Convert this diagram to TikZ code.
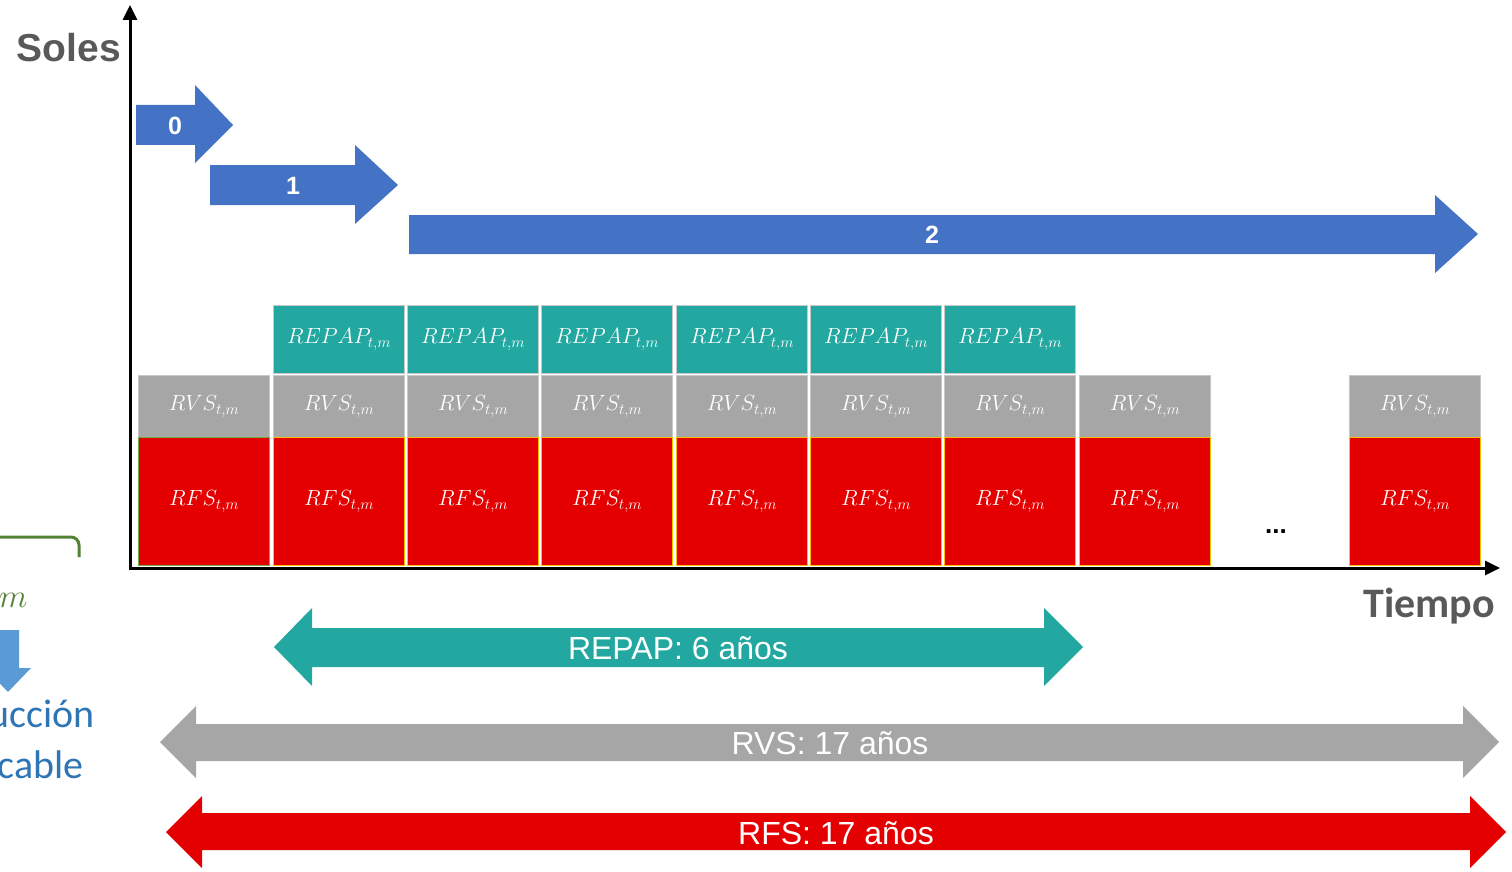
\RequirePackage{fix-cm}
\documentclass[tikz,border=0pt]{standalone}
\usepackage{amsmath}
\usepackage{fontspec}
\setmainfont{Liberation Sans}
\newfontfamily\calibri{Carlito}
\usepackage{tikz}
\usetikzlibrary{arrows.meta}

\definecolor{soleblue}{HTML}{4472C4}
\definecolor{repapteal}{HTML}{22A8A0}
\definecolor{rvsgray}{HTML}{A6A6A6}
\definecolor{rfsred}{HTML}{E40000}
\definecolor{boxline}{HTML}{C8C8C8}
\definecolor{edgegold}{HTML}{FFC000}
\definecolor{edgegreen}{HTML}{70AD47}
\definecolor{axisgray}{HTML}{595959}
\definecolor{markgreen}{HTML}{548235}
\definecolor{downblue}{HTML}{5B9BD5}
\definecolor{textblue}{HTML}{2E75B6}

\begin{document}
\begin{tikzpicture}[x=1pt,y=-1pt,
    box/.style={draw=boxline, line width=1.2pt, minimum width=131pt, anchor=north west, inner sep=0pt, text=white, font=\fontsize{22}{26}\selectfont},
    rfsbox/.style={box, fill=rfsred, minimum height=128pt},
    rvsbox/.style={box, fill=rvsgray, minimum height=62pt},
    repapbox/.style={box, fill=repapteal, minimum height=68pt},
    blocklabel/.style={text=white, font=\bfseries\fontsize{25}{28}\selectfont},
    spanlabel/.style={text=white, font=\fontsize{32}{35}\selectfont},
    axislabel/.style={text=axisgray, font=\bfseries\fontsize{39}{42}\selectfont}]
        \useasboundingbox (0,0) rectangle (1512,872);
        \clip (0,0) rectangle (1512,872);
        % Draw the axes
        \coordinate (ytop) at (130,5);
        \coordinate (origin) at (130,568);
        \coordinate (xend) at (1500,568);
        \draw[line width=3pt, {Triangle[length=15pt, width=14pt]}-{Triangle[length=15pt, width=14pt]}] (ytop) -- (origin) -- (xend);
        \node[axislabel] (soles) at (69,48) {Soles};
        \node[axislabel, font=\calibri\bfseries\fontsize{42}{44}\selectfont] (tiempo) at (1429,606) {Tiempo};
        % Draw the blue stage arrows
        \fill[soleblue] (136,105) -- (195,105) -- (195,85) -- (233,125) -- (195,163) -- (195,145) -- (136,145) -- cycle;
        \node[blocklabel] (stage0) at (175,126) {0};
        \fill[soleblue] (210,165) -- (355,165) -- (355,145) -- (398,185) -- (355,224) -- (355,205) -- (210,205) -- cycle;
        \node[blocklabel] (stage1) at (293,186) {1};
        \fill[soleblue] (409,215) -- (1435,215) -- (1435,195) -- (1478,234) -- (1435,273) -- (1435,254) -- (409,254) -- cycle;
        \node[blocklabel] (stage2) at (932,235) {2};
        % Draw the stacked boxes
        \foreach \i/\x/\edge in {1/138/edgegreen, 2/273/edgegold, 3/407/edgegold, 4/541/edgegold, 5/676/edgegold, 6/810/edgegold, 7/944/edgegold, 8/1079/edgegold, 9/1349/edgegold}{
            \node[rvsbox] (rvs\i) at (\x,375) {$RVS_{t,m}$};
            \node[rfsbox, draw=\edge] (rfs\i) at (\x,437) {$RFS_{t,m}$};
        }
        \foreach \i/\x in {2/273, 3/407, 4/541, 5/676, 6/810, 7/944}{
            \node[repapbox] (repap\i) at (\x,305) {$REPAP_{t,m}$};
        }
        \node[font=\bfseries\fontsize{26}{28}\selectfont] (dots) at (1276,532) {...};
        % Draw the duration arrows
        \fill[repapteal] (274,647) -- (312,608) -- (312,628) -- (1044,628) -- (1044,608) -- (1083,647) -- (1044,686) -- (1044,667) -- (312,667) -- (312,686) -- cycle;
        \node[spanlabel] (repapspan) at (678,648) {REPAP: 6 años};
        \fill[rvsgray] (160,742) -- (196,706) -- (196,724) -- (1463,724) -- (1463,706) -- (1499,742) -- (1463,778) -- (1463,761) -- (196,761) -- (196,778) -- cycle;
        \node[spanlabel] (rvsspan) at (830,743) {RVS: 17 años};
        \fill[rfsred] (166,832) -- (202,796) -- (202,813) -- (1470,813) -- (1470,796) -- (1506,832) -- (1470,868) -- (1470,850) -- (202,850) -- (202,868) -- cycle;
        \node[spanlabel] (rfsspan) at (836,833) {RFS: 17 años};
        % Draw the cut-off pieces on the left
        \draw[markgreen, line width=3pt] (-5,537) -- (71,537) arc (-90:0:8) -- (79,557);
        \node[anchor=base east, text=markgreen, font=\fontsize{33}{36}\selectfont] (mvar) at (31,607) {$m$};
        \fill[downblue] (-3,630) -- (19,630) -- (19,668) -- (31,668) -- (8,692) -- (-15,668) -- (-3,668) -- cycle;
        \node[anchor=base east, text=textblue, font=\calibri\fontsize{40}{42}\selectfont] (reduc) at (98,727) {ucción};
        \node[anchor=base east, text=textblue, font=\calibri\fontsize{40}{42}\selectfont] (aplic) at (87,778) {cable};
    \end{tikzpicture}
\end{document}
